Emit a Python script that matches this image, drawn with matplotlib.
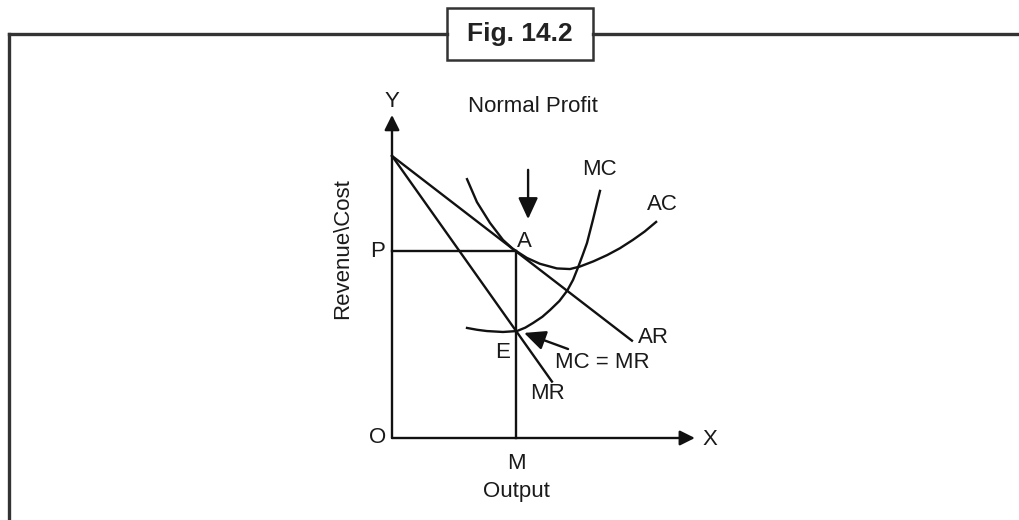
import matplotlib
matplotlib.use("Agg")
import matplotlib.pyplot as plt
from matplotlib.lines import Line2D
from matplotlib.patches import Rectangle

plt.rcParams['font.family'] = ['Liberation Sans', 'DejaVu Sans']

# diagram data (output on x, revenue/cost on y)
intercept = 9.1          # where AR and MR start on the Y axis
q_m = 4.0                # output M
p_level = 6.03           # price P (point A)
ar_x = [0.0, 7.74]
ar_y = [intercept, 3.14]
mr_x = [0.0, 5.16]
mr_y = [intercept, 1.82]

ac_x = [2.42, 2.74, 3.16, 3.58, 3.90, 4.35, 4.77, 5.32, 5.74, 6.06, 6.50, 6.94, 7.35, 7.77, 8.15, 8.52]
ac_y = [8.35, 7.61, 6.94, 6.39, 6.10, 5.81, 5.62, 5.47, 5.45, 5.53, 5.70, 5.90, 6.12, 6.39, 6.66, 6.97]

mc_x = [2.42, 2.75, 3.06, 3.58, 4.03, 4.30, 4.55, 4.85, 5.10, 5.40, 5.65, 5.84, 6.00, 6.15, 6.29, 6.48, 6.71]
mc_y = [3.55, 3.49, 3.45, 3.42, 3.45, 3.56, 3.71, 3.91, 4.13, 4.42, 4.75, 5.10, 5.50, 5.90, 6.29, 7.03, 7.97]

y_top = 10.42
x_end = 9.77

fig = plt.figure(figsize=(10.2, 5.2), dpi=100)
ax = fig.add_axes([0, 0, 1, 1])
# px = 392 + 31*x, py = 438 - 31*y
ax.set_xlim(-392 / 31, (1020 - 392) / 31)
ax.set_ylim((438 - 520) / 31, 438 / 31)
ax.axis('off')

lw = 1.7
col = '#111111'

# frame and title box
fc = '#333333'
def fx(px):
    return px / 1020
def fy(py):
    return 1 - py / 520
fig.add_artist(Line2D([fx(9), fx(9)], [fy(520), fy(34)], color=fc, lw=2.4, solid_capstyle='projecting'))
fig.add_artist(Line2D([fx(9), fx(447)], [fy(34), fy(34)], color=fc, lw=2.4, solid_capstyle='projecting'))
fig.add_artist(Line2D([fx(593), fx(1020)], [fy(34), fy(34)], color=fc, lw=2.4))
fig.add_artist(Rectangle((fx(447), fy(60)), fx(593) - fx(447), fy(8) - fy(60),
                         fill=False, ec=fc, lw=1.8, transform=fig.transFigure))
fig.text(fx(520), fy(34), 'Fig. 14.2', ha='center', va='center', fontsize=19,
         fontweight='bold', family=['Liberation Sans Narrow', 'DejaVu Sans Condensed', 'Liberation Sans'],
         color='#222222')

# axes with arrows
arrow_kw = dict(arrowstyle='-|>,head_length=0.9,head_width=0.45', color=col, lw=lw,
                shrinkA=0, shrinkB=0, mutation_scale=10)
ax.annotate('', xy=(0, y_top), xytext=(0, 0), arrowprops=arrow_kw)
ax.annotate('', xy=(x_end, 0), xytext=(0, 0), arrowprops=arrow_kw)

# curves
ax.plot(ar_x, ar_y, color=col, lw=lw)
ax.plot(mr_x, mr_y, color=col, lw=lw)
ax.plot(ac_x, ac_y, color=col, lw=lw, solid_joinstyle='round')
ax.plot(mc_x, mc_y, color=col, lw=lw, solid_joinstyle='round')

# P-A and A-M guide lines
ax.plot([0, q_m], [p_level, p_level], color=col, lw=lw)
ax.plot([q_m, q_m], [0, p_level], color=col, lw=lw)

# pointer arrows
ptr_kw = dict(arrowstyle='-|>,head_length=1.3,head_width=0.6', color=col, lw=lw,
              shrinkA=0, shrinkB=0, mutation_scale=10)
ax.annotate('', xy=(4.39, 7.06), xytext=(4.39, 8.65), arrowprops=ptr_kw)
ax.annotate('', xy=(4.26, 3.39), xytext=(5.68, 2.87), arrowprops=ptr_kw)

# labels
fs = 16
tc = '#1a1a1a'
ax.text(0, 10.84, 'Y', ha='center', va='center', fontsize=fs, color=tc)
ax.text(10.26, -0.06, 'X', ha='center', va='center', fontsize=fs, color=tc)
ax.text(-0.45, 0.03, 'O', ha='center', va='center', fontsize=fs, color=tc)
ax.text(4.55, 10.68, 'Normal Profit', ha='center', va='center', fontsize=fs, color=tc)
ax.text(-0.48, 6.03, 'P', ha='center', va='center', fontsize=fs, color=tc)
ax.text(4.26, 6.35, 'A', ha='center', va='center', fontsize=fs, color=tc)
ax.text(6.68, 8.65, 'MC', ha='center', va='center', fontsize=fs, color=tc)
ax.text(8.71, 7.52, 'AC', ha='center', va='center', fontsize=fs, color=tc)
ax.text(8.42, 3.23, 'AR', ha='center', va='center', fontsize=fs, color=tc)
ax.text(3.58, 2.77, 'E', ha='center', va='center', fontsize=fs, color=tc)
ax.text(6.77, 2.45, 'MC = MR', ha='center', va='center', fontsize=fs, color=tc)
ax.text(5.03, 1.45, 'MR', ha='center', va='center', fontsize=fs, color=tc)
ax.text(q_m, -0.81, 'M', ha='center', va='center', fontsize=fs, color=tc)
ax.text(q_m, -1.74, 'Output', ha='center', va='center', fontsize=fs, color=tc)
ax.text(-1.58, 6.1, 'Revenue\\Cost', ha='center', va='center', fontsize=fs,
        rotation=90, color=tc)

fig.savefig('out.png', dpi=100, facecolor='white')
